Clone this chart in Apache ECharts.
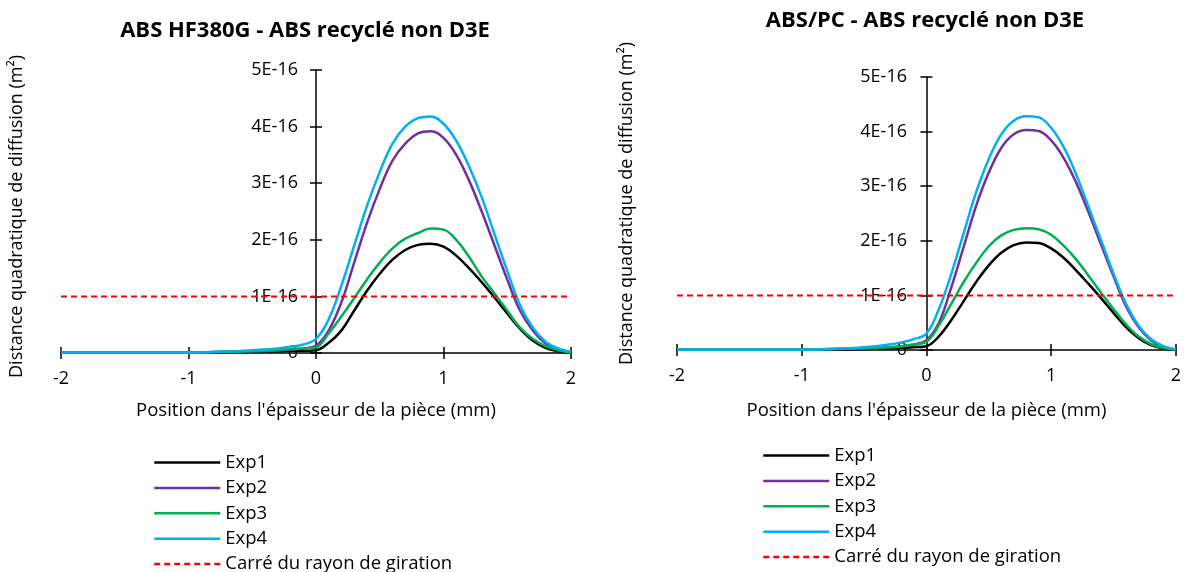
<!DOCTYPE html>
<html>
<head>
<meta charset="utf-8">
<script src="https://cdn.jsdelivr.net/npm/echarts@6/dist/echarts.min.js"></script>
<style>
html,body{margin:0;padding:0;background:#fff;}
#main{width:1184px;height:572px;}
</style>
</head>
<body>
<div id="main"></div>
<script>
// positions (mm) shared by all curves
var xs = [-2, -1.5, -1, -0.75, -0.5, -0.3, -0.2, -0.1, 0, 0.1, 0.2, 0.3, 0.4, 0.5, 0.6, 0.7, 0.8, 0.9, 1.0, 1.1, 1.2, 1.3, 1.4, 1.5, 1.6, 1.7, 1.8, 1.9, 2.0];
// values in units of 1E-16 m²
// ABS HF380G - ABS recyclé non D3E
var l_exp1 = [0.01, 0.01, 0.01, 0.01, 0.02, 0.03, 0.04, 0.04, 0.05, 0.18, 0.40, 0.75, 1.10, 1.40, 1.65, 1.82, 1.91, 1.93, 1.88, 1.72, 1.50, 1.25, 0.98, 0.70, 0.43, 0.22, 0.09, 0.03, 0.00];
var l_exp2 = [0.01, 0.01, 0.01, 0.02, 0.03, 0.05, 0.06, 0.08, 0.13, 0.40, 0.90, 1.60, 2.30, 2.90, 3.40, 3.70, 3.88, 3.92, 3.80, 3.50, 3.05, 2.50, 1.90, 1.30, 0.75, 0.40, 0.17, 0.06, 0.01];
var l_exp3 = [0.01, 0.01, 0.01, 0.02, 0.03, 0.05, 0.07, 0.08, 0.10, 0.35, 0.65, 0.97, 1.30, 1.60, 1.85, 2.02, 2.12, 2.20, 2.18, 2.00, 1.70, 1.35, 1.05, 0.75, 0.45, 0.25, 0.12, 0.05, 0.01];
var l_exp4 = [0.01, 0.01, 0.01, 0.02, 0.05, 0.08, 0.11, 0.15, 0.25, 0.60, 1.20, 1.90, 2.60, 3.20, 3.70, 4.00, 4.15, 4.18, 4.05, 3.75, 3.30, 2.75, 2.10, 1.45, 0.85, 0.45, 0.20, 0.08, 0.02];
// ABS/PC - ABS recyclé non D3E
var r_exp1 = [0.01, 0.01, 0.01, 0.01, 0.02, 0.03, 0.04, 0.05, 0.07, 0.25, 0.55, 0.90, 1.25, 1.55, 1.78, 1.92, 1.97, 1.96, 1.86, 1.69, 1.46, 1.21, 0.95, 0.68, 0.42, 0.22, 0.09, 0.03, 0.00];
var r_exp2 = [0.01, 0.01, 0.01, 0.02, 0.03, 0.05, 0.07, 0.10, 0.18, 0.50, 1.15, 1.90, 2.65, 3.25, 3.70, 3.95, 4.03, 4.01, 3.84, 3.52, 3.07, 2.52, 1.93, 1.35, 0.80, 0.42, 0.18, 0.06, 0.01];
var r_exp3 = [0.01, 0.01, 0.01, 0.02, 0.03, 0.05, 0.07, 0.10, 0.15, 0.45, 0.85, 1.25, 1.60, 1.90, 2.10, 2.20, 2.23, 2.21, 2.11, 1.91, 1.66, 1.36, 1.05, 0.75, 0.47, 0.25, 0.11, 0.04, 0.01];
var r_exp4 = [0.01, 0.01, 0.01, 0.02, 0.05, 0.10, 0.14, 0.20, 0.30, 0.75, 1.40, 2.15, 2.90, 3.50, 3.95, 4.20, 4.28, 4.26, 4.07, 3.72, 3.22, 2.62, 2.01, 1.40, 0.85, 0.45, 0.20, 0.07, 0.01];
var rg2 = 1; // carré du rayon de giration, 1E-16 m²

var titres = ['ABS HF380G - ABS recyclé non D3E', 'ABS/PC - ABS recyclé non D3E'];
var noms = ['Exp1', 'Exp2', 'Exp3', 'Exp4', 'Carré du rayon de giration'];
var couleurs = ['#000000', '#7030A0', '#00B050', '#00B0F0', '#FF0000'];
var xName = "Position dans l'épaisseur de la pièce (mm)";
var yName = 'Distance quadratique de diffusion (m²)';

var police = 'Open Sans';

function pts(arr){
	var out = [];
	for (var i = 0; i < xs.length; i++) {
		out.push([xs[i], arr[i]]);
	}
	return out;
}

function courbes(grid, sets){
	var s = [];
	for (var i = 0; i < 4; i++) {
		s.push({
			name: noms[i], type: 'line', xAxisIndex: grid*2, yAxisIndex: grid*2,
			data: pts(sets[i]), smooth: 0.4, symbol: 'none',
			lineStyle: {color: couleurs[i], width: 2.5}, itemStyle: {color: couleurs[i]}
		});
	}
	s.push({
		name: noms[4], type: 'line', xAxisIndex: grid*2, yAxisIndex: grid*2,
		data: [[-2, rg2], [2, rg2]], symbol: 'none', z: 3,
		lineStyle: {color: couleurs[4], width: 2, type: [6, 4]}, itemStyle: {color: couleurs[4]}
	});
	return s;
}

function axeX(grid, gap, ticksIn){
	return {
		type: 'value', gridIndex: grid, min: -2, max: 2, interval: 1, position: 'bottom',
		name: ticksIn ? '' : xName, nameLocation: 'middle', nameGap: gap,
		nameTextStyle: {fontFamily: police, fontSize: 18.5, color: '#000'},
		axisLine: {show: !ticksIn, lineStyle: {color: '#000', width: 1.5}},
		axisTick: {show: true, inside: ticksIn, length: 6, lineStyle: {color: '#000', width: 1.5}},
		axisLabel: {show: !ticksIn, fontFamily: police, fontSize: 18, color: '#000', margin: 17},
		splitLine: {show: false}
	};
}

// labels stay at grid edge with onZero, so push them next to x=0 with a negative margin
function axeY(grid, ticksIn, marge){
	return {
		type: 'value', gridIndex: grid, min: 0, max: 5, interval: 1, position: 'left',
		axisLine: {show: !ticksIn, onZero: true, lineStyle: {color: '#000', width: 1.5}},
		axisTick: {show: true, inside: ticksIn, length: 6, lineStyle: {color: '#000', width: 1.5}},
		axisLabel: {show: !ticksIn, fontFamily: police, fontSize: 18, color: '#000', margin: marge,
			formatter: function(v){ return v === 0 ? '0' : v + 'E-16'; }},
		splitLine: {show: false}
	};
}

function legende(x, y){
	return {data: noms, orient: 'vertical', left: x, top: y, height: 140, padding: 0,
		itemWidth: 66, itemHeight: 10, itemGap: 6.4,
		itemStyle: {opacity: 0}, lineStyle: {width: 2.5},
		textStyle: {fontFamily: police, fontSize: 18.5, color: '#000'}};
}

var myChart = echarts.init(document.getElementById('main'));
var option = {
	animation: false,
	backgroundColor: '#fff',
	title: [
		{text: titres[0], left: 300, top: 15, textAlign: 'center',
			textStyle: {fontFamily: police, fontSize: 22, fontWeight: 'bold', color: '#000'}},
		{text: titres[1], left: 920, top: 5, textAlign: 'center',
			textStyle: {fontFamily: police, fontSize: 22, fontWeight: 'bold', color: '#000'}}
	],
	grid: [
		{left: 61, right: 613, top: 70, bottom: 219},
		{left: 677, right: 7, top: 77, bottom: 222}
	],
	xAxis: [axeX(0, 48, false), axeX(0, 48, true), axeX(1, 51, false), axeX(1, 51, true)],
	yAxis: [axeY(0, false, -237), axeY(0, true, 0), axeY(1, false, -230), axeY(1, true, 0)],
	legend: [legende(153, 453), legende(762, 446)],
	graphic: [
		{type: 'text', left: 8, top: 55, rotation: Math.PI/2,
			style: {text: yName, fontFamily: police, fontSize: 18, fill: '#000'}},
		{type: 'text', left: 618, top: 42, rotation: Math.PI/2,
			style: {text: yName, fontFamily: police, fontSize: 18, fill: '#000'}}
	],
	series: courbes(0, [l_exp1, l_exp2, l_exp3, l_exp4]).concat(courbes(1, [r_exp1, r_exp2, r_exp3, r_exp4]))
};
myChart.setOption(option);
</script>
</body>
</html>
